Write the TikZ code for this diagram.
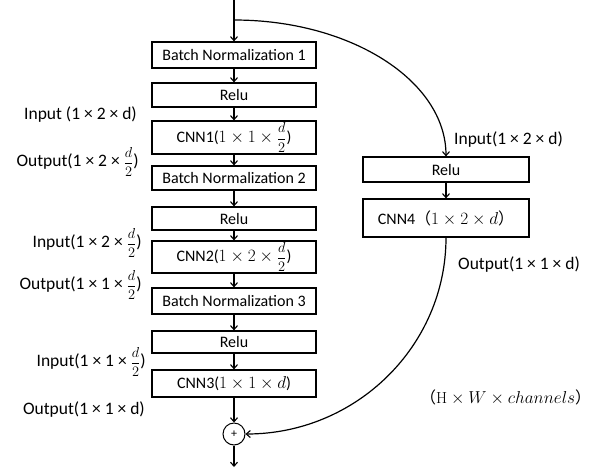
\documentclass[tikz,border=0pt]{standalone}
\usepackage{fontspec}
\setmainfont{Carlito}
\newfontfamily\cjk{Noto Sans CJK SC}
\newfontfamily\lmr{Latin Modern Roman}
\usetikzlibrary{arrows.meta}
\newcommand{\hf}{{\fontsize{14.4}{15}\selectfont$\displaystyle\frac{d}{2}$}}
\tikzset{
  blk/.style={draw, line width=1.2pt, minimum width=164pt, inner sep=0pt, font=\fontsize{16}{18}\selectfont},
  lbl/.style={font=\fontsize{17.5}{19}\selectfont, inner sep=0pt},
  arr/.style={line width=1.2pt, -{Straight Barb[length=4pt,width=7pt,line width=1.1pt]}},
  ln/.style={line width=1.2pt}
}
\begin{document}
\begin{tikzpicture}[x=1pt,y=-1pt]
\useasboundingbox (0,0) rectangle (601,474);
% left column
\coordinate (top) at (234,0);
\coordinate (br) at (234,20);
\node[blk, minimum height=26pt] (bn1) at (234,55) {Batch Normalization 1};
\node[blk, minimum height=24pt] (relu1) at (234,95) {Relu};
\node[blk, minimum height=33pt] (cnn1) at (234,137.5) {CNN1($1\times1\times{}$\hf)};
\node[blk, minimum height=24pt] (bn2) at (234,178) {Batch Normalization 2};
\node[blk, minimum height=23pt] (relu2) at (234,218.5) {Relu};
\node[blk, minimum height=32pt] (cnn2) at (234,257) {CNN2($1\times2\times{}$\hf)};
\node[blk, minimum height=26pt] (bn3) at (234,301) {Batch Normalization 3};
\node[blk, minimum height=22pt] (relu3) at (234,342) {Relu};
\node[blk, minimum height=27pt] (cnn3) at (234,383.5) {CNN3($1\times1\times d$)};
\node[draw, circle, line width=1pt, minimum size=22pt, inner sep=0pt, font=\fontsize{12}{12}\selectfont] (plus) at (234,434) {+};
\coordinate (out) at (234,467);
% right column
\node[blk, minimum width=166pt, minimum height=25pt] (relu4) at (446,169.5) {Relu};
\node[blk, minimum width=166pt, minimum height=38pt] (cnn4) at (446,218) {CNN4{\cjk（}$1\times2\times d${\cjk）}};
% connectors
\draw[arr] (top) -- (bn1);
\draw[arr] (bn1) -- (relu1);
\draw[arr] (relu1) -- (cnn1);
\draw[arr] (cnn1) -- (bn2);
\draw[arr] (bn2) -- (relu2);
\draw[arr] (relu2) -- (cnn2);
\draw[arr] (cnn2) -- (bn3);
\draw[arr] (bn3) -- (relu3);
\draw[arr] (relu3) -- (cnn3);
\draw[arr] (cnn3) -- (plus);
\draw[arr] (plus) -- (out);
\draw[arr] (br) .. controls (351,20) and (446,81) .. (relu4.north);
\draw[arr] (relu4) -- (cnn4);
\draw[arr] (cnn4.south) .. controls (446,346) and (356,434) .. (plus.east);
% labels
\node[lbl, anchor=east] (l1) at (137,115) {Input (1 × 2 × d)};
\node[lbl, anchor=east] (l2) at (139,162) {Output(1 × 2 × \hf)};
\node[lbl, anchor=east] (l3) at (142,243) {Input(1 × 2 × \hf)};
\node[lbl, anchor=east] (l4) at (142,285) {Output(1 × 1 × \hf)};
\node[lbl, anchor=east] (l5) at (146,362) {Input(1 × 1 × \hf)};
\node[lbl, anchor=east] (l6) at (145,410) {Output(1 × 1 × d)};
\node[lbl, anchor=west] (r1) at (454,140) {Input(1 × 2 × d)};
\node[lbl, anchor=west] (r2) at (458,265) {Output(1 × 1 × d)};
\node[lbl, anchor=west, font=\fontsize{16}{18}\selectfont] (r3) at (420,397) {{\cjk（}$\hbox{\lmr H}\times W\times channels${\cjk）}};
\end{tikzpicture}
\end{document}
